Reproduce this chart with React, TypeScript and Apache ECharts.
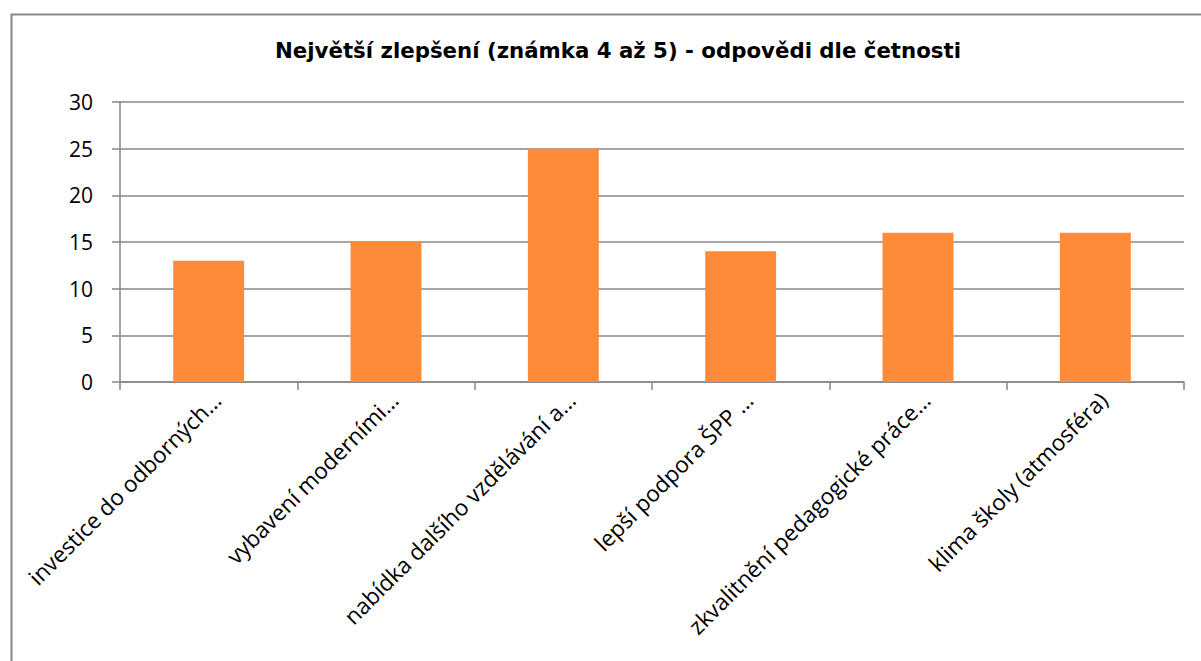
import React, { useEffect, useRef } from "react";
import * as echarts from "echarts";

const TITLE = "Největší zlepšení (známka 4 až 5) - odpovědi dle četnosti";
const categories = [
  "investice do odborných…",
  "vybavení moderními…",
  "nabídka dalšího vzdělávání a…",
  "lepší podpora ŠPP …",
  "zkvalitnění pedagogické práce…",
  "klima školy (atmosféra)",
];
const values = [13, 15, 25, 14, 16, 16];
const yMin = 0;
const yMax = 30;
const yStep = 5;

export default function App() {
  const ref = useRef<HTMLDivElement>(null);
  useEffect(() => {
    if (!ref.current) return;
    const chart = echarts.init(ref.current, undefined, { renderer: "svg" });
    const font = "'Open Sans', sans-serif";
    chart.setOption({
      animation: false,
      backgroundColor: "#ffffff",
      textStyle: { fontFamily: font },
      title: {
        text: TITLE,
        left: 613,
        top: 35,
        textAlign: "center",
        textStyle: { fontFamily: "'DejaVu Sans', sans-serif", fontWeight: "bold", fontSize: 21.3, color: "#000" },
      },
      graphic: [
        {
          type: "rect",
          left: 9,
          top: 12,
          shape: { width: 1300, height: 800 },
          style: { fill: "none", stroke: "#878787", lineWidth: 2 },
          silent: true,
        },
      ],
      grid: { left: 120, right: 17, top: 102, bottom: 279, containLabel: false },
      xAxis: {
        type: "category",
        data: categories,
        boundaryGap: true,
        axisLine: { show: true, lineStyle: { color: "#878787", width: 1.5 } },
        axisTick: { show: true, length: 8, lineStyle: { color: "#878787", width: 1.5 } },
        axisLabel: {
          rotate: 45,
          interval: 0,
          margin: 6,
          verticalAlign: "top",
          fontSize: 22.5,
          color: "#000",
          fontFamily: font,
        },
        splitLine: { show: false },
      },
      yAxis: {
        type: "value",
        min: yMin,
        max: yMax,
        interval: yStep,
        axisLine: { show: true, lineStyle: { color: "#878787", width: 1.5 } },
        axisTick: { show: true, length: 8, lineStyle: { color: "#878787", width: 1.5 } },
        axisLabel: { margin: 27, fontSize: 21, color: "#000", fontFamily: font },
        splitLine: { show: true, lineStyle: { color: "#878787", width: 1.5 } },
      },
      series: [
        {
          type: "bar",
          data: values,
          barWidth: "40%",
          itemStyle: { color: "#FE8B3A" },
        },
      ],
    });
    return () => chart.dispose();
  }, []);
  return <div ref={ref} style={{ width: 1201, height: 661, position: "absolute", left: 0, top: 0 }} />;
}
